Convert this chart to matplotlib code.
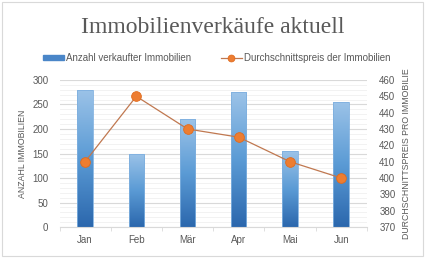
import numpy as np
import matplotlib.pyplot as plt
from matplotlib.colors import LinearSegmentedColormap
from matplotlib.patches import Rectangle

months = ["Jan", "Feb", "Mär", "Apr", "Mai", "Jun"]
verkauft = [280, 150, 220, 275, 155, 255]
preis = [410, 450, 430, 425, 410, 400]

plt.rcParams["font.family"] = ["Liberation Sans", "DejaVu Sans"]
grey = "#595959"
fs = 7

fig = plt.figure(figsize=(4.25, 2.58), dpi=100)
fig.patches.append(Rectangle((0.004, 0.006), 0.992, 0.988, transform=fig.transFigure,
                             fill=False, edgecolor="#d9d9d9", linewidth=0.8))
ax = fig.add_axes([0.140, 0.120, 0.723, 0.570])
x = np.arange(len(months))

# gridlines
ax.set_ylim(0, 300)
ax.set_yticks(range(0, 301, 50))
ax.set_yticks(range(0, 301, 10), minor=True)
ax.grid(axis="y", which="major", color="#d9d9d9", linewidth=0.8)
ax.grid(axis="y", which="minor", color="#f0f0f0", linewidth=0.6)
ax.set_axisbelow(True)

# bars with gradient
cmap = LinearSegmentedColormap.from_list("blau", ["#2b67ad", "#5b9bd5", "#9cc3e8"])
grad = np.linspace(0, 1, 256).reshape(-1, 1)
bars = ax.bar(x, verkauft, width=0.3, color="none", edgecolor="#7fb0df", linewidth=0.6, zorder=2)
for b in bars:
    bx, by = b.get_x(), b.get_y()
    im = ax.imshow(grad, extent=[bx, bx + b.get_width(), by, by + b.get_height()],
                   origin="lower", cmap=cmap, aspect="auto", zorder=1.9)
    im.set_clip_path(b)
ax.set_xlim(-0.5, len(months) - 0.5)

ax.set_xticks(x)
ax.set_xticklabels(months)
ax.set_xticks(np.arange(-0.5, len(months)), minor=True)
ax.tick_params(axis="x", which="major", length=0, colors=grey, labelsize=fs, pad=6)
ax.tick_params(axis="x", which="minor", length=3, color="#d9d9d9")
ax.tick_params(axis="y", which="both", length=0, colors=grey, labelsize=fs, pad=8)
for s in ["top", "left", "right"]:
    ax.spines[s].set_visible(False)
ax.spines["bottom"].set_color("#d9d9d9")
ax.set_ylabel("ANZAHL IMMOBILIEN", color=grey, fontsize=6.3, labelpad=4)

ax2 = ax.twinx()
ax2.set_ylim(370, 460)
ax2.set_yticks(range(370, 461, 10))
line, = ax2.plot(x, preis, color="#c07850", linewidth=0.9, marker="o", markersize=7,
                 markerfacecolor="#ed7d31", markeredgecolor="#e06b1e", markeredgewidth=0.6)
ax2.set_xlim(-0.5, len(months) - 0.5)
for s in ["top", "left", "right", "bottom"]:
    ax2.spines[s].set_visible(False)
ax2.tick_params(axis="y", length=0, colors=grey, labelsize=fs, pad=9)
ax2.set_ylabel("DURCHSCHNITTSPREIS PRO IMMOBILIE", color=grey, fontsize=6.3,
               rotation=90, labelpad=5)

fig.text(0.5, 0.895, "Immobilienverkäufe aktuell", ha="center", va="center",
         fontsize=17, color=grey, family="Liberation Serif")

bar_handle = Rectangle((0, 0), 1, 1, facecolor="#4a86c8", edgecolor="#4a86c8")
fig.legend([bar_handle, line], ["Anzahl verkaufter Immobilien", "Durchschnittspreis der Immobilien"],
           loc="center", bbox_to_anchor=(0.51, 0.775), ncol=2, frameon=False,
           fontsize=fs, labelcolor=grey, handlelength=2.2, handleheight=0.5,
           handletextpad=0.2, columnspacing=3, markerscale=0.7)

fig.savefig("out.png", dpi=100)
